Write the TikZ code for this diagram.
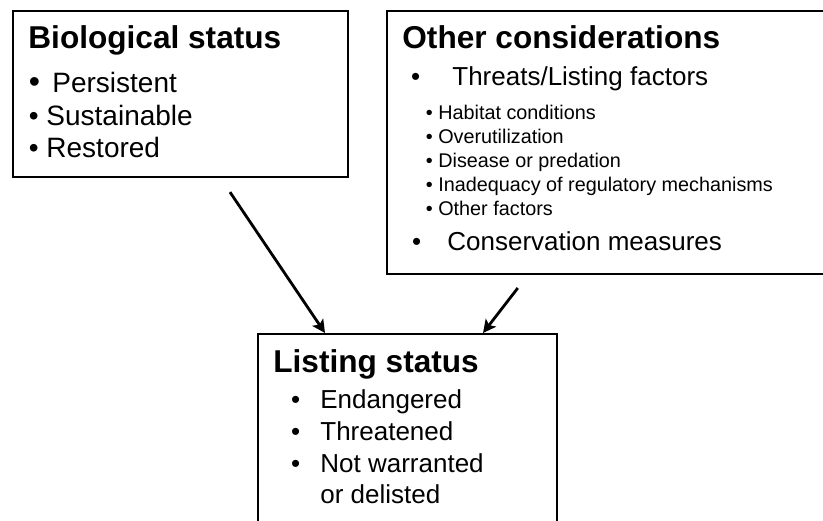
\documentclass[tikz,border=0pt]{standalone}
\usepackage{fontspec}
\setmainfont{Liberation Sans}
\usetikzlibrary{arrows.meta}
\newlength\pxu
\setlength\pxu{0.5pt}
\tikzset{
  box/.style={draw, rectangle, line width=1.1pt, inner sep=0pt, anchor=north west},
  head/.style={anchor=base west, inner sep=0pt, font=\fontsize{15.8pt}{18pt}\selectfont\bfseries},
  bigitem/.style={anchor=base west, inner sep=0pt, font=\fontsize{14pt}{16pt}\selectfont},
  item/.style={anchor=base west, inner sep=0pt, font=\fontsize{13pt}{15pt}\selectfont},
  subitem/.style={anchor=base west, inner sep=0pt, font=\fontsize{9.9pt}{12pt}\selectfont},
  link/.style={line width=1.4pt, -{Stealth[length=6.5pt,width=6.5pt,inset=1.5pt]}}
}
\begin{document}
\begin{tikzpicture}[x=0.5pt,y=-0.5pt]
        \useasboundingbox (0,0) rectangle (823,520);
        % Define the boxes
        \node[box, minimum width=167.5pt, minimum height=83pt]  (bio)   at (12,10)  {};
        \node[box, minimum width=225pt,   minimum height=131.5pt] (other) at (386,10) {};
        \node[box, minimum width=149.5pt, minimum height=100pt] (list)  at (257,333) {};
        % Biological status
        \node[head]    (bioT) at (28,48)    {Biological status};
        \node[bigitem] (bioA) at (28.5,92)  {\makebox[23.5\pxu][l]{\fontsize{16pt}{16pt}\selectfont •}Persistent};
        \node[bigitem] (bioB) at (28.5,125) {• Sustainable};
        \node[bigitem] (bioC) at (28.5,157) {• Restored};
        % Other considerations
        \node[head]    (othT) at (402,48)   {Other considerations};
        \node[item]    (othA) at (410.6,85) {\makebox[41.4\pxu][l]{•}Threats/Listing factors};
        \node[subitem] (subA) at (425.5,119) {• Habitat conditions};
        \node[subitem] (subB) at (425.5,143) {• Overutilization};
        \node[subitem] (subC) at (425.5,167) {• Disease or predation};
        \node[subitem] (subD) at (425.5,191) {• Inadequacy of regulatory mechanisms};
        \node[subitem] (subE) at (425.5,215) {• Other factors};
        \node[item]    (othB) at (411.6,250) {\makebox[35.4\pxu][l]{•}Conservation measures};
        % Listing status
        \node[head]    (lstT) at (273,372)   {Listing status};
        \node[item]    (lstA) at (290.6,408) {\makebox[29.4\pxu][l]{•}Endangered};
        \node[item]    (lstB) at (290.6,440) {\makebox[29.4\pxu][l]{•}Threatened};
        \node[item]    (lstC) at (290.6,472) {\makebox[29.4\pxu][l]{•}Not warranted};
        \node[item]    (lstD) at (320,503)   {or delisted};
        % Connect the boxes
        \draw[link, shorten <=8.4pt] ([xshift=104.3pt]bio.south west) -- ([xshift=34pt]list.north west);
        \draw[link, shorten <=8.1pt] ([xshift=70.85pt]other.south west) -- ([xshift=113pt]list.north west);
    \end{tikzpicture}
\end{document}
